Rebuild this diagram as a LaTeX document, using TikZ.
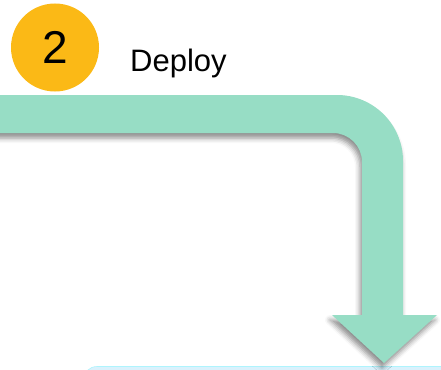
\documentclass[tikz,border=0pt]{standalone}
\usepackage{fontspec}
\setmainfont{Liberation Sans}
\usetikzlibrary{shadows.blur}
\definecolor{mint}{HTML}{97DDC5}
\definecolor{amber}{HTML}{FBB916}
\definecolor{paleblue}{HTML}{D9F1FC}
\tikzset{
  badge/.style={circle, fill=amber, minimum size=88pt, inner sep=0pt, font=\fontsize{46}{50}\selectfont},
  label/.style={font=\fontsize{31}{34}\selectfont, anchor=base west, inner sep=0pt},
  band/.style={fill=mint, blur shadow={shadow xshift=-2pt, shadow yshift=-5pt, shadow blur radius=5pt, shadow opacity=45}},
  panel/.style={fill=paleblue, draw=paleblue!80!cyan, line width=0.6pt, rounded corners=14pt}
}
\begin{document}
\begin{tikzpicture}[x=1pt, y=-1pt]
\useasboundingbox (0,0) rectangle (441,369);
\clip (0,0) rectangle (441,369);
% bottom panel
\draw[panel] (83,366.5) rectangle (470,420);
% bent arrow
\path[band] (-20,95) -- (337,95) arc[start angle=-90, end angle=0, radius=66]
  -- (403,315) -- (437,315) -- (384,363) -- (332,315) -- (362,315)
  -- (362,162) arc[start angle=0, end angle=-90, radius=29] -- (-20,133) -- cycle;
% badge and title
\node[badge] (num) at (55,47.5) {2};
\node[label] (title) at (130,71) {Deploy};
\end{tikzpicture}
\end{document}
